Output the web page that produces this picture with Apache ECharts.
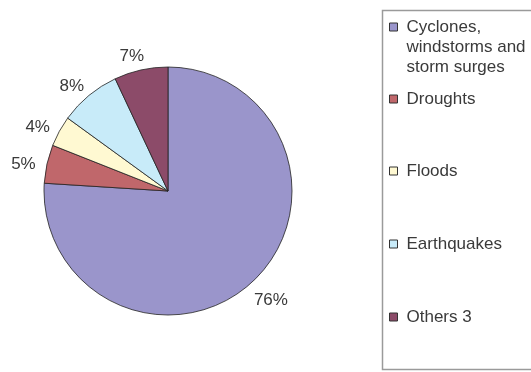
<!DOCTYPE html>
<html><head><meta charset="utf-8">
<script src="https://cdn.jsdelivr.net/npm/echarts@6/dist/echarts.min.js"></script>
<style>html,body{margin:0;padding:0;background:#fff}#c{width:531px;height:372px}</style>
</head><body><div id="c"></div>
<script>
var categories = ['Cyclones, windstorms and storm surges', 'Droughts', 'Floods', 'Earthquakes', 'Others 3'];
var legendLabels = ['Cyclones,\nwindstorms and\nstorm surges', 'Droughts', 'Floods', 'Earthquakes', 'Others 3'];
var values = [76, 5, 4, 8, 7];
var colors = ['#9a95cb', '#c0676b', '#fff9d2', '#c8ebf9', '#8c4b69'];

var legendTops = [17, 89, 161, 234, 307];
var FONT = 'Liberation Sans, Arial, sans-serif';

var chart = echarts.init(document.getElementById('c'), null, {renderer: 'canvas'});
var data = categories.map(function (n, i) {
  return {name: n, value: values[i], itemStyle: {color: colors[i]}};
});
var legends = categories.map(function (n, i) {
  var multi = legendLabels[i].indexOf('\n') >= 0;
  var h = multi ? 48 : 8;
  return {
    orient: 'vertical',
    left: 389, top: legendTops[i],
    padding: 0,
    itemWidth: 12, itemHeight: h,
    icon: 'path://M0,0h8v8h-8zM12,' + h,
    itemGap: 10,
    itemStyle: {borderColor: '#333', borderWidth: 1},
    textStyle: {fontSize: 17, fontFamily: FONT, color: '#3a3a3a', lineHeight: 20},
    formatter: function (nm) { return legendLabels[categories.indexOf(nm)]; },
    selectedMode: false,
    data: [n]
  };
});
chart.setOption({
  animation: false,
  textStyle: {fontFamily: FONT},
  graphic: [{
    type: 'rect', silent: true,
    shape: {x: 382.5, y: 10.5, width: 200, height: 359},
    style: {fill: 'none', stroke: '#9a9a9a', lineWidth: 1.5}
  }],
  legend: legends,
  series: [{
    type: 'pie',
    center: [168, 191],
    radius: 124,
    startAngle: 90,
    clockwise: true,
    data: data,
    itemStyle: {borderColor: '#222', borderWidth: 0.8},
    label: {show: true, position: 'outside', formatter: '{d}%', fontSize: 17, color: '#3a3a3a',
      overflow: 'none', bleedMargin: 0},
    labelLine: {show: false, length: 19, length2: 0},
    labelLayout: function () { return {align: 'center', verticalAlign: 'middle', dy: 5}; },
    emphasis: {disabled: true}
  }]
});
</script></body></html>
